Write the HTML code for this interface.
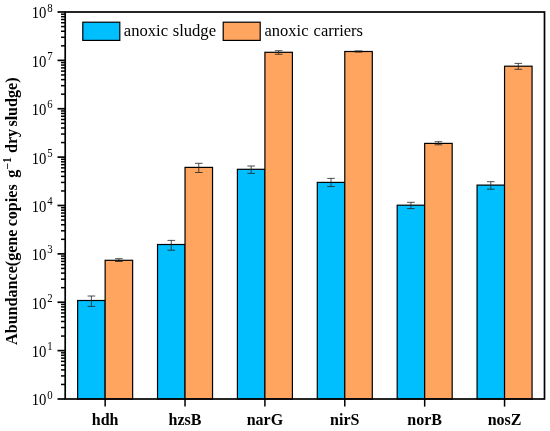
<!DOCTYPE html>
<html lang="en"><head><meta charset="utf-8"><title>Gene abundance</title>
<style>
html,body{margin:0;padding:0;background:#fff;}
svg{display:block;will-change:transform;}
svg text{font-family:"Liberation Serif",serif;fill:#000;}
</style></head><body>
<svg width="550" height="431" viewBox="0 0 550 431">
<rect x="0" y="0" width="550" height="431" fill="#ffffff"/>
<rect x="77.64" y="300.50" width="27.50" height="98.50" fill="#00BFFF" stroke="#000" stroke-width="1.2"/>
<path d="M91.39 296.00V306.40M87.59 296.00H95.19M87.59 306.40H95.19" stroke="#222" stroke-width="0.8" fill="none"/>
<rect x="105.14" y="260.30" width="27.50" height="138.70" fill="#FFA55F" stroke="#000" stroke-width="1.2"/>
<path d="M118.89 258.70V261.50M115.09 258.70H122.69M115.09 261.50H122.69" stroke="#222" stroke-width="0.8" fill="none"/>
<rect x="157.53" y="244.50" width="27.50" height="154.50" fill="#00BFFF" stroke="#000" stroke-width="1.2"/>
<path d="M171.28 240.40V250.20M167.48 240.40H175.08M167.48 250.20H175.08" stroke="#222" stroke-width="0.8" fill="none"/>
<rect x="185.03" y="167.40" width="27.50" height="231.60" fill="#FFA55F" stroke="#000" stroke-width="1.2"/>
<path d="M198.78 163.30V172.50M194.98 163.30H202.58M194.98 172.50H202.58" stroke="#222" stroke-width="0.8" fill="none"/>
<rect x="237.41" y="169.30" width="27.50" height="229.70" fill="#00BFFF" stroke="#000" stroke-width="1.2"/>
<path d="M251.16 166.00V173.40M247.36 166.00H254.96M247.36 173.40H254.96" stroke="#222" stroke-width="0.8" fill="none"/>
<rect x="264.91" y="52.30" width="27.50" height="346.70" fill="#FFA55F" stroke="#000" stroke-width="1.2"/>
<path d="M278.66 50.70V54.30M274.86 50.70H282.46M274.86 54.30H282.46" stroke="#222" stroke-width="0.8" fill="none"/>
<rect x="317.29" y="182.40" width="27.50" height="216.60" fill="#00BFFF" stroke="#000" stroke-width="1.2"/>
<path d="M331.04 178.40V186.60M327.24 178.40H334.84M327.24 186.60H334.84" stroke="#222" stroke-width="0.8" fill="none"/>
<rect x="344.79" y="51.50" width="27.50" height="347.50" fill="#FFA55F" stroke="#000" stroke-width="1.2"/>
<path d="M358.54 50.90V52.10M354.74 50.90H362.34M354.74 52.10H362.34" stroke="#222" stroke-width="0.8" fill="none"/>
<rect x="397.18" y="205.20" width="27.50" height="193.80" fill="#00BFFF" stroke="#000" stroke-width="1.2"/>
<path d="M410.93 202.30V208.60M407.12 202.30H414.73M407.12 208.60H414.73" stroke="#222" stroke-width="0.8" fill="none"/>
<rect x="424.68" y="143.40" width="27.50" height="255.60" fill="#FFA55F" stroke="#000" stroke-width="1.2"/>
<path d="M438.43 141.70V144.80M434.62 141.70H442.23M434.62 144.80H442.23" stroke="#222" stroke-width="0.8" fill="none"/>
<rect x="477.06" y="185.10" width="27.50" height="213.90" fill="#00BFFF" stroke="#000" stroke-width="1.2"/>
<path d="M490.81 181.70V189.20M487.01 181.70H494.61M487.01 189.20H494.61" stroke="#222" stroke-width="0.8" fill="none"/>
<rect x="504.56" y="66.20" width="27.50" height="332.80" fill="#FFA55F" stroke="#000" stroke-width="1.2"/>
<path d="M518.31 63.40V69.30M514.51 63.40H522.11M514.51 69.30H522.11" stroke="#222" stroke-width="0.8" fill="none"/>
<rect x="65.2" y="12.0" width="479.30" height="387.00" fill="none" stroke="#000" stroke-width="1.7"/>
<line x1="57.50" y1="399.00" x2="65.20" y2="399.00" stroke="#000" stroke-width="1.7"/>
<text transform="translate(46.4 405.40) scale(0.92 1.10)" text-anchor="end" font-size="16">10</text>
<text transform="translate(47.2 398.60) scale(1.0 1.12)" font-size="10.8">0</text>
<line x1="61.00" y1="384.44" x2="65.20" y2="384.44" stroke="#000" stroke-width="1.5"/>
<line x1="61.00" y1="375.92" x2="65.20" y2="375.92" stroke="#000" stroke-width="1.5"/>
<line x1="61.00" y1="369.88" x2="65.20" y2="369.88" stroke="#000" stroke-width="1.5"/>
<line x1="61.00" y1="365.19" x2="65.20" y2="365.19" stroke="#000" stroke-width="1.5"/>
<line x1="61.00" y1="361.36" x2="65.20" y2="361.36" stroke="#000" stroke-width="1.5"/>
<line x1="61.00" y1="358.12" x2="65.20" y2="358.12" stroke="#000" stroke-width="1.5"/>
<line x1="61.00" y1="355.31" x2="65.20" y2="355.31" stroke="#000" stroke-width="1.5"/>
<line x1="61.00" y1="352.84" x2="65.20" y2="352.84" stroke="#000" stroke-width="1.5"/>
<line x1="57.50" y1="350.62" x2="65.20" y2="350.62" stroke="#000" stroke-width="1.7"/>
<text transform="translate(46.4 357.02) scale(0.92 1.10)" text-anchor="end" font-size="16">10</text>
<text transform="translate(47.2 350.23) scale(1.0 1.12)" font-size="10.8">1</text>
<line x1="61.00" y1="336.06" x2="65.20" y2="336.06" stroke="#000" stroke-width="1.5"/>
<line x1="61.00" y1="327.54" x2="65.20" y2="327.54" stroke="#000" stroke-width="1.5"/>
<line x1="61.00" y1="321.50" x2="65.20" y2="321.50" stroke="#000" stroke-width="1.5"/>
<line x1="61.00" y1="316.81" x2="65.20" y2="316.81" stroke="#000" stroke-width="1.5"/>
<line x1="61.00" y1="312.98" x2="65.20" y2="312.98" stroke="#000" stroke-width="1.5"/>
<line x1="61.00" y1="309.74" x2="65.20" y2="309.74" stroke="#000" stroke-width="1.5"/>
<line x1="61.00" y1="306.94" x2="65.20" y2="306.94" stroke="#000" stroke-width="1.5"/>
<line x1="61.00" y1="304.46" x2="65.20" y2="304.46" stroke="#000" stroke-width="1.5"/>
<line x1="57.50" y1="302.25" x2="65.20" y2="302.25" stroke="#000" stroke-width="1.7"/>
<text transform="translate(46.4 308.65) scale(0.92 1.10)" text-anchor="end" font-size="16">10</text>
<text transform="translate(47.2 301.85) scale(1.0 1.12)" font-size="10.8">2</text>
<line x1="61.00" y1="287.69" x2="65.20" y2="287.69" stroke="#000" stroke-width="1.5"/>
<line x1="61.00" y1="279.17" x2="65.20" y2="279.17" stroke="#000" stroke-width="1.5"/>
<line x1="61.00" y1="273.13" x2="65.20" y2="273.13" stroke="#000" stroke-width="1.5"/>
<line x1="61.00" y1="268.44" x2="65.20" y2="268.44" stroke="#000" stroke-width="1.5"/>
<line x1="61.00" y1="264.61" x2="65.20" y2="264.61" stroke="#000" stroke-width="1.5"/>
<line x1="61.00" y1="261.37" x2="65.20" y2="261.37" stroke="#000" stroke-width="1.5"/>
<line x1="61.00" y1="258.56" x2="65.20" y2="258.56" stroke="#000" stroke-width="1.5"/>
<line x1="61.00" y1="256.09" x2="65.20" y2="256.09" stroke="#000" stroke-width="1.5"/>
<line x1="57.50" y1="253.88" x2="65.20" y2="253.88" stroke="#000" stroke-width="1.7"/>
<text transform="translate(46.4 260.27) scale(0.92 1.10)" text-anchor="end" font-size="16">10</text>
<text transform="translate(47.2 253.47) scale(1.0 1.12)" font-size="10.8">3</text>
<line x1="61.00" y1="239.31" x2="65.20" y2="239.31" stroke="#000" stroke-width="1.5"/>
<line x1="61.00" y1="230.79" x2="65.20" y2="230.79" stroke="#000" stroke-width="1.5"/>
<line x1="61.00" y1="224.75" x2="65.20" y2="224.75" stroke="#000" stroke-width="1.5"/>
<line x1="61.00" y1="220.06" x2="65.20" y2="220.06" stroke="#000" stroke-width="1.5"/>
<line x1="61.00" y1="216.23" x2="65.20" y2="216.23" stroke="#000" stroke-width="1.5"/>
<line x1="61.00" y1="212.99" x2="65.20" y2="212.99" stroke="#000" stroke-width="1.5"/>
<line x1="61.00" y1="210.19" x2="65.20" y2="210.19" stroke="#000" stroke-width="1.5"/>
<line x1="61.00" y1="207.71" x2="65.20" y2="207.71" stroke="#000" stroke-width="1.5"/>
<line x1="57.50" y1="205.50" x2="65.20" y2="205.50" stroke="#000" stroke-width="1.7"/>
<text transform="translate(46.4 211.90) scale(0.92 1.10)" text-anchor="end" font-size="16">10</text>
<text transform="translate(47.2 205.10) scale(1.0 1.12)" font-size="10.8">4</text>
<line x1="61.00" y1="190.94" x2="65.20" y2="190.94" stroke="#000" stroke-width="1.5"/>
<line x1="61.00" y1="182.42" x2="65.20" y2="182.42" stroke="#000" stroke-width="1.5"/>
<line x1="61.00" y1="176.38" x2="65.20" y2="176.38" stroke="#000" stroke-width="1.5"/>
<line x1="61.00" y1="171.69" x2="65.20" y2="171.69" stroke="#000" stroke-width="1.5"/>
<line x1="61.00" y1="167.86" x2="65.20" y2="167.86" stroke="#000" stroke-width="1.5"/>
<line x1="61.00" y1="164.62" x2="65.20" y2="164.62" stroke="#000" stroke-width="1.5"/>
<line x1="61.00" y1="161.81" x2="65.20" y2="161.81" stroke="#000" stroke-width="1.5"/>
<line x1="61.00" y1="159.34" x2="65.20" y2="159.34" stroke="#000" stroke-width="1.5"/>
<line x1="57.50" y1="157.12" x2="65.20" y2="157.12" stroke="#000" stroke-width="1.7"/>
<text transform="translate(46.4 163.53) scale(0.92 1.10)" text-anchor="end" font-size="16">10</text>
<text transform="translate(47.2 156.72) scale(1.0 1.12)" font-size="10.8">5</text>
<line x1="61.00" y1="142.56" x2="65.20" y2="142.56" stroke="#000" stroke-width="1.5"/>
<line x1="61.00" y1="134.04" x2="65.20" y2="134.04" stroke="#000" stroke-width="1.5"/>
<line x1="61.00" y1="128.00" x2="65.20" y2="128.00" stroke="#000" stroke-width="1.5"/>
<line x1="61.00" y1="123.31" x2="65.20" y2="123.31" stroke="#000" stroke-width="1.5"/>
<line x1="61.00" y1="119.48" x2="65.20" y2="119.48" stroke="#000" stroke-width="1.5"/>
<line x1="61.00" y1="116.24" x2="65.20" y2="116.24" stroke="#000" stroke-width="1.5"/>
<line x1="61.00" y1="113.44" x2="65.20" y2="113.44" stroke="#000" stroke-width="1.5"/>
<line x1="61.00" y1="110.96" x2="65.20" y2="110.96" stroke="#000" stroke-width="1.5"/>
<line x1="57.50" y1="108.75" x2="65.20" y2="108.75" stroke="#000" stroke-width="1.7"/>
<text transform="translate(46.4 115.15) scale(0.92 1.10)" text-anchor="end" font-size="16">10</text>
<text transform="translate(47.2 108.35) scale(1.0 1.12)" font-size="10.8">6</text>
<line x1="61.00" y1="94.19" x2="65.20" y2="94.19" stroke="#000" stroke-width="1.5"/>
<line x1="61.00" y1="85.67" x2="65.20" y2="85.67" stroke="#000" stroke-width="1.5"/>
<line x1="61.00" y1="79.63" x2="65.20" y2="79.63" stroke="#000" stroke-width="1.5"/>
<line x1="61.00" y1="74.94" x2="65.20" y2="74.94" stroke="#000" stroke-width="1.5"/>
<line x1="61.00" y1="71.11" x2="65.20" y2="71.11" stroke="#000" stroke-width="1.5"/>
<line x1="61.00" y1="67.87" x2="65.20" y2="67.87" stroke="#000" stroke-width="1.5"/>
<line x1="61.00" y1="65.06" x2="65.20" y2="65.06" stroke="#000" stroke-width="1.5"/>
<line x1="61.00" y1="62.59" x2="65.20" y2="62.59" stroke="#000" stroke-width="1.5"/>
<line x1="57.50" y1="60.38" x2="65.20" y2="60.38" stroke="#000" stroke-width="1.7"/>
<text transform="translate(46.4 66.78) scale(0.92 1.10)" text-anchor="end" font-size="16">10</text>
<text transform="translate(47.2 59.98) scale(1.0 1.12)" font-size="10.8">7</text>
<line x1="61.00" y1="45.81" x2="65.20" y2="45.81" stroke="#000" stroke-width="1.5"/>
<line x1="61.00" y1="37.29" x2="65.20" y2="37.29" stroke="#000" stroke-width="1.5"/>
<line x1="61.00" y1="31.25" x2="65.20" y2="31.25" stroke="#000" stroke-width="1.5"/>
<line x1="61.00" y1="26.56" x2="65.20" y2="26.56" stroke="#000" stroke-width="1.5"/>
<line x1="61.00" y1="22.73" x2="65.20" y2="22.73" stroke="#000" stroke-width="1.5"/>
<line x1="61.00" y1="19.49" x2="65.20" y2="19.49" stroke="#000" stroke-width="1.5"/>
<line x1="61.00" y1="16.69" x2="65.20" y2="16.69" stroke="#000" stroke-width="1.5"/>
<line x1="61.00" y1="14.21" x2="65.20" y2="14.21" stroke="#000" stroke-width="1.5"/>
<line x1="57.50" y1="12.00" x2="65.20" y2="12.00" stroke="#000" stroke-width="1.7"/>
<text transform="translate(46.4 18.40) scale(0.92 1.10)" text-anchor="end" font-size="16">10</text>
<text transform="translate(47.2 11.60) scale(1.0 1.12)" font-size="10.8">8</text>
<line x1="105.14" y1="399.00" x2="105.14" y2="406.60" stroke="#000" stroke-width="1.5"/>
<text x="105.14" y="424.7" text-anchor="middle" font-size="16" font-weight="bold">hdh</text>
<line x1="185.03" y1="399.00" x2="185.03" y2="406.60" stroke="#000" stroke-width="1.5"/>
<text x="185.03" y="424.7" text-anchor="middle" font-size="16" font-weight="bold">hzsB</text>
<line x1="264.91" y1="399.00" x2="264.91" y2="406.60" stroke="#000" stroke-width="1.5"/>
<text x="264.91" y="424.7" text-anchor="middle" font-size="16" font-weight="bold">narG</text>
<line x1="344.79" y1="399.00" x2="344.79" y2="406.60" stroke="#000" stroke-width="1.5"/>
<text x="344.79" y="424.7" text-anchor="middle" font-size="16" font-weight="bold">nirS</text>
<line x1="424.68" y1="399.00" x2="424.68" y2="406.60" stroke="#000" stroke-width="1.5"/>
<text x="424.68" y="424.7" text-anchor="middle" font-size="16" font-weight="bold">norB</text>
<line x1="504.56" y1="399.00" x2="504.56" y2="406.60" stroke="#000" stroke-width="1.5"/>
<text x="504.56" y="424.7" text-anchor="middle" font-size="16" font-weight="bold">nosZ</text>
<rect x="82.8" y="22.2" width="37" height="18.2" fill="#00BFFF" stroke="#000" stroke-width="1.2"/>
<text transform="translate(123.8 36.4) scale(1 1.07)" font-size="16.6" word-spacing="0.5">anoxic sludge</text>
<rect x="223.2" y="22.2" width="37" height="18.2" fill="#FFA55F" stroke="#000" stroke-width="1.2"/>
<text transform="translate(264.5 36.4) scale(1 1.07)" font-size="16.5" word-spacing="1">anoxic carriers</text>
<text transform="translate(17.0 344.9) rotate(-90)" font-size="16.1" font-weight="bold">Abundance(gene<tspan dx="-0.8"> copies</tspan><tspan dx="2.6"> g</tspan><tspan font-size="11.5" dy="-5.6">−1</tspan><tspan dy="5.6" dx="0.3"> dry</tspan><tspan dx="-1.8"> sludge)</tspan></text>
</svg>
</body></html>
